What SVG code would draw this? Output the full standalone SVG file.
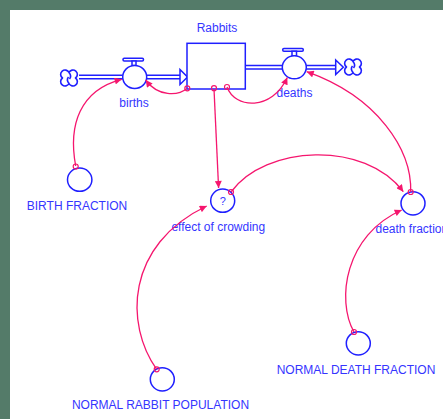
<svg xmlns="http://www.w3.org/2000/svg" width="443" height="419" viewBox="0 0 443 419">
  <style>
    .frame { fill: #547b69; }
    .sheet { fill: #ffffff; }
    .shape { fill: #ffffff; stroke: #1f1fff; stroke-width: 1.5; }
    .pipe-out { fill: none; stroke: #1f1fff; stroke-width: 5; }
    .pipe-in { fill: none; stroke: #ffffff; stroke-width: 2; }
    .cloud { fill: #ffffff; stroke: #1f1fff; stroke-width: 1.6; stroke-linejoin: round; }
    .label { font-family: "Liberation Sans", Arial, sans-serif; font-size: 12px; fill: #3535ff; text-anchor: middle; }
    .link { fill: none; stroke: #f5166e; stroke-width: 1.3; }
    .tail { fill: none; stroke: #f5166e; stroke-width: 1.2; }
  </style>
  <defs>
    <marker id="head" markerUnits="userSpaceOnUse" markerWidth="8" markerHeight="7" viewBox="0 0 10 10" refX="10" refY="5" orient="auto">
      <path d="M0,0 L10,5 L0,10 Z" fill="#f5166e"/>
    </marker>
    <g id="cloud-shape">
      <path class="cloud" d="M0,-5.5 A4.4,4.4 0 1 1 6.5,0 A4.4,4.4 0 1 1 0,5.5 A4.4,4.4 0 1 1 -6.5,0 A4.4,4.4 0 1 1 0,-5.5 Z"/>
      <path class="cloud" fill="none" d="M0,-5.5 Q3,-2 0.5,1 M0,5.5 Q-3,2 -0.5,-1"/>
    </g>
  </defs>

  <!-- window frame -->
  <rect class="frame" x="0" y="0" width="443" height="419"/>
  <rect class="sheet" x="10" y="10" width="433" height="409"/>

  <!-- flow pipes -->
  <g id="flows">
    <path class="pipe-out" d="M79,77 H180"/>
    <path class="pipe-in" d="M78,77 H181"/>
    <polygon class="shape" points="180,69.5 187.5,77 180,84.5"/>
    <path class="pipe-out" d="M245,67.3 H335.7"/>
    <path class="pipe-in" d="M244,67.3 H336.5"/>
    <polygon class="shape" points="335.7,60 343.3,67.3 335.7,74.6"/>
  </g>

  <g id="source-cloud"><use href="#cloud-shape" x="69" y="78"/></g>
  <g id="sink-cloud"><use href="#cloud-shape" x="353" y="67"/></g>

  <g id="rabbits">
    <rect class="shape" x="187" y="43.3" width="58.3" height="45.7"/>
    <text class="label" x="217" y="32">Rabbits</text>
  </g>

  <g id="births">
    <rect class="shape" x="123" y="58.3" width="20.5" height="2.6" rx="1.2"/>
    <rect class="shape" x="132" y="61" width="4" height="4.5"/>
    <ellipse class="shape" cx="134.7" cy="77" rx="12" ry="11.5"/>
    <text class="label" x="134" y="107">births</text>
  </g>

  <g id="deaths">
    <rect class="shape" x="282.7" y="48.6" width="20.6" height="2.6" rx="1.2"/>
    <rect class="shape" x="292" y="51.2" width="4.5" height="4.6"/>
    <ellipse class="shape" cx="294.3" cy="67.3" rx="12" ry="11.5"/>
    <text class="label" x="294.5" y="97">deaths</text>
  </g>

  <g id="birth-fraction">
    <ellipse class="shape" cx="79.7" cy="179.7" rx="12.2" ry="11.6"/>
    <text class="label" x="77" y="210">BIRTH FRACTION</text>
  </g>

  <g id="effect-of-crowding">
    <ellipse class="shape" cx="222.7" cy="200.7" rx="12" ry="11.6"/>
    <text class="label" x="222.7" y="204.5" style="font-size:11px">?</text>
    <text class="label" x="218.3" y="231">effect of crowding</text>
  </g>

  <g id="death-fraction">
    <ellipse class="shape" cx="413" cy="203.3" rx="12" ry="11.6"/>
    <text class="label" x="375.5" y="233" style="text-anchor:start">death fraction</text>
  </g>

  <g id="normal-rabbit-population">
    <ellipse class="shape" cx="162.3" cy="379.3" rx="12" ry="11.6"/>
    <text class="label" x="160.5" y="409">NORMAL RABBIT POPULATION</text>
  </g>

  <g id="normal-death-fraction">
    <ellipse class="shape" cx="358.3" cy="343.3" rx="12" ry="11.6"/>
    <text class="label" x="356" y="374">NORMAL DEATH FRACTION</text>
  </g>

  <!-- information links -->
  <g id="connectors">
    <path class="link" marker-end="url(#head)" d="M187.3,88.3 C178,96 158,97 145.7,80"/>
    <circle class="tail" cx="187.3" cy="88.3" r="2.5"/>

    <path class="link" marker-end="url(#head)" d="M214,89 L218.6,188"/>
    <circle class="tail" cx="214" cy="88.2" r="2.5"/>

    <path class="link" marker-end="url(#head)" d="M227,87 C235,109 272,111 287.3,77.5"/>
    <circle class="tail" cx="227" cy="87" r="2.5"/>

    <path class="link" marker-end="url(#head)" d="M75.7,166 C68,125 80,90 121.7,79.3"/>
    <circle class="tail" cx="75.7" cy="166.5" r="2.5"/>

    <path class="link" marker-end="url(#head)" d="M231,192 C265,145 365,140 403.3,191.7"/>
    <circle class="tail" cx="231" cy="192" r="2.5"/>

    <path class="link" marker-end="url(#head)" d="M410.7,192 C412,150 378,97 306.7,71.7"/>
    <circle class="tail" cx="410.7" cy="192" r="2.5"/>

    <path class="link" marker-end="url(#head)" d="M156.7,369.3 C125,325 125,245 206.7,206"/>
    <circle class="tail" cx="156.7" cy="369.3" r="2.5"/>

    <path class="link" marker-end="url(#head)" d="M354,332 C336,300 345,235 401.7,210"/>
    <circle class="tail" cx="354" cy="332" r="2.5"/>
  </g>
</svg>
